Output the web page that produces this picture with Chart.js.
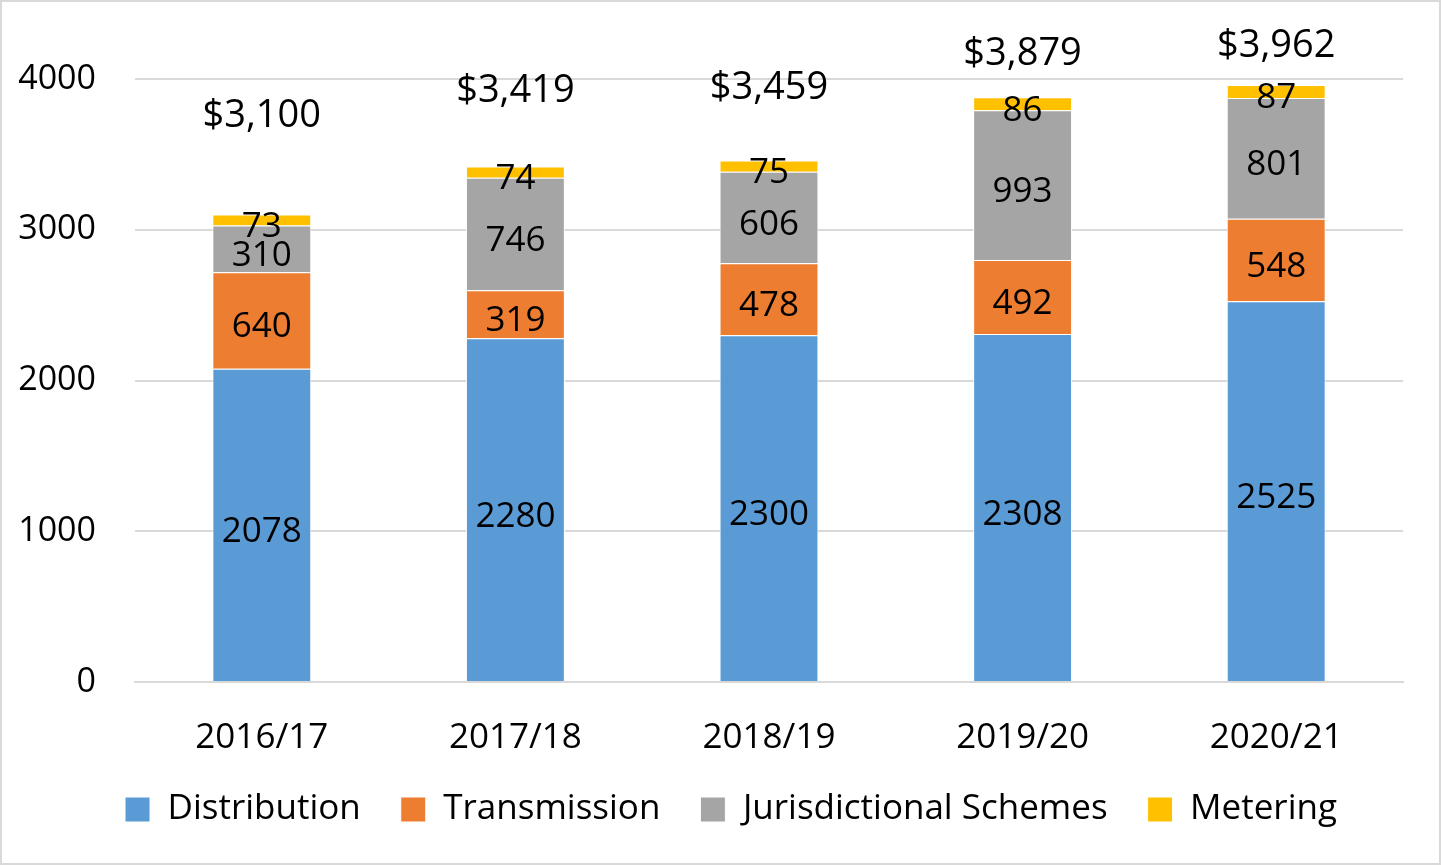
<!DOCTYPE html>
<html>
<head>
<meta charset="utf-8">
<script src="https://cdn.jsdelivr.net/npm/chart.js@4.4.1/dist/chart.umd.min.js"></script>
<style>
  html, body { margin: 0; padding: 0; background: #fff; }
  #wrap { position: relative; width: 1441px; height: 865px; }
  canvas { display: block; }
</style>
</head>
<body>
<div id="wrap"><canvas id="c" width="1441" height="865"></canvas></div>
<script>
const categories = ['2016/17', '2017/18', '2018/19', '2019/20', '2020/21'];
const distribution = [2078, 2280, 2300, 2308, 2525];
const transmission = [640, 319, 478, 492, 548];
const jurisdictional = [310, 746, 606, 993, 801];
const metering = [73, 74, 75, 86, 87];
const totals = [3100, 3419, 3459, 3879, 3962];
const yTicks = [0, 1000, 2000, 3000, 4000];

const FONT = '"Open Sans", "DejaVu Sans", sans-serif';

const bgBorder = {
  id: 'bgBorder',
  afterLayout(chart) {
    // let the y tick labels draw into the left padding area
    chart.scales.y.left = 0;
  },
  beforeDraw(chart) {
    const ctx = chart.ctx;
    ctx.save();
    ctx.fillStyle = '#fff';
    ctx.fillRect(0, 0, chart.width, chart.height);
    ctx.strokeStyle = '#d9d9d9';
    ctx.lineWidth = 2;
    ctx.strokeRect(1, 1, chart.width - 2, chart.height - 2);
    ctx.restore();
  }
};

const valueLabels = {
  id: 'valueLabels',
  afterDatasetsDraw(chart, args, opts) {
    const ctx = chart.ctx;
    ctx.save();
    ctx.fillStyle = '#000';
    ctx.textAlign = 'center';
    ctx.textBaseline = 'middle';
    ctx.font = opts.segSize + 'px ' + FONT;
    chart.data.datasets.forEach((ds, i) => {
      const meta = chart.getDatasetMeta(i);
      meta.data.forEach((bar, j) => {
        const p = bar.getProps(['x', 'y', 'base'], true);
        ctx.fillText(String(ds.data[j]), p.x, (p.y + p.base) / 2 + opts.dy);
      });
    });
    const top = chart.getDatasetMeta(chart.data.datasets.length - 1);
    ctx.font = opts.totalSize + 'px ' + FONT;
    top.data.forEach((bar, j) => {
      const p = bar.getProps(['x', 'y'], true);
      ctx.fillText('$' + totals[j].toLocaleString('en-US'), p.x, p.y - opts.totalOffsets[j] + opts.dyTotal);
    });
    ctx.restore();
  }
};

function draw() {
  new Chart(document.getElementById('c'), {
    type: 'bar',
    data: {
      labels: categories,
      datasets: [
        { label: 'Distribution', data: distribution, backgroundColor: '#5B9BD5' },
        { label: 'Transmission', data: transmission, backgroundColor: '#ED7D31' },
        { label: 'Jurisdictional Schemes', data: jurisdictional, backgroundColor: '#A5A5A5' },
        { label: 'Metering', data: metering, backgroundColor: '#FFC000' }
      ].map(d => Object.assign(d, { borderColor: '#ffffff', borderWidth: 1, categoryPercentage: 1, barPercentage: 0.39 }))
    },
    options: {
      responsive: false,
      animation: false,
      layout: { padding: { left: 59, right: 38, top: 79, bottom: 28 } },
      scales: {
        x: {
          stacked: true,
          afterFit(scale) { scale.height = 70; },
          grid: { display: false, drawTicks: false },
          border: { display: true, color: '#d9d9d9', width: 2 },
          ticks: { color: '#000', font: { family: FONT, size: 35 }, padding: 35 }
        },
        y: {
          stacked: true,
          min: 0, max: 4000,
          afterFit(scale) { scale.width = 76; },
          afterBuildTicks(scale) { scale.ticks = yTicks.map(v => ({ value: v })); },
          grid: { color: '#d9d9d9', lineWidth: 2, drawTicks: false },
          border: { display: false },
          ticks: { color: '#000', font: { family: FONT, size: 34 }, padding: 39, callback: v => String(v) }
        }
      },
      plugins: {
        legend: {
          position: 'bottom',
          labels: { color: '#000', font: { family: FONT, size: 35 }, boxWidth: 25, boxHeight: 25, padding: 40 }
        },
        tooltip: { enabled: false },
        valueLabels: { segSize: 35, totalSize: 38, dy: 7, dyTotal: 4, totalOffsets: [102, 79, 76, 47, 43] }
      }
    },
    plugins: [bgBorder, valueLabels]
  });
}

if (document.fonts && document.fonts.load) {
  Promise.all([document.fonts.load('35px "Open Sans"')]).then(draw, draw);
} else { draw(); }
</script>
</body>
</html>
